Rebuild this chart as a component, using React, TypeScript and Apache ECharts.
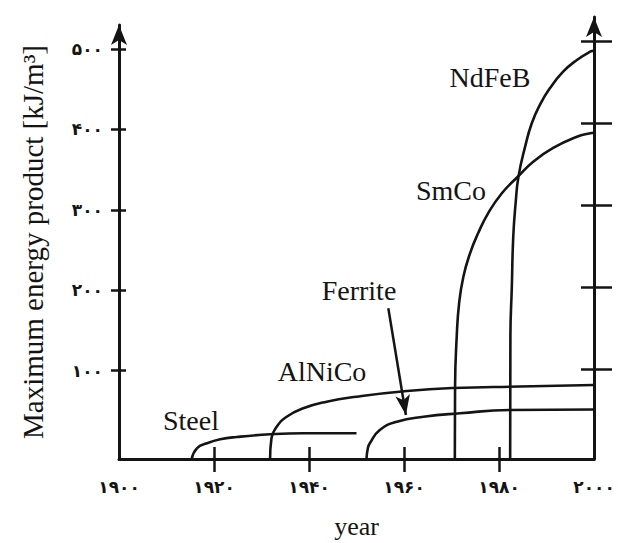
import React, { useEffect, useRef } from "react";
import * as echarts from "echarts";

const xTicks = [1900, 1920, 1940, 1960, 1980, 2000];
const xInnerTicks = [1920, 1940, 1960, 1980];
const yTicks = [100, 200, 300, 400, 500];

const steelYears = [1915.3, 1916.4, 1918.5, 1921.3, 1924.8, 1931.8, 1938.8, 1950.0];
const steelValues = [-10, 3.3, 9.5, 14.5, 17.4, 20.7, 22, 22];

const alnicoYears = [1931.8, 1932.1, 1933.2, 1935.3, 1938.8, 1943.7, 1950.0, 1960.6, 1970.3, 1984.4, 2000];
const alnicoValues = [-10, 15.8, 30.2, 42.6, 53.1, 61.3, 67.5, 74.6, 78.3, 80.2, 82];

const ferriteYears = [1952.1, 1952.4, 1952.8, 1954.9, 1958.5, 1964.1, 1971.8, 1982.3, 2000];
const ferriteValues = [-10, 3.7, 9.5, 26.1, 36.4, 42.6, 46.9, 51, 51.6];

const smcoYears = [1970.7, 1970.75, 1971.1, 1971.6, 1972.5, 1973.9, 1975.6, 1977.7, 1980.6, 1984.0, 1987.2, 1991.4, 1996.4, 1999.2, 2000];
const smcoValues = [-10, 80, 142.2, 183.7, 216.8, 245.9, 270.8, 295.7, 320.6, 341.5, 359.9, 377, 391, 395.3, 396];

const ndfebYears = [1982.35, 1982.4, 1982.7, 1983.0, 1983.5, 1984.1, 1985.5, 1986.9, 1988.6, 1990.7, 1993.5, 1996.4, 1999.2, 2000];
const ndfebValues = [-10, 142.2, 204.4, 266.6, 308.2, 341.3, 378.6, 407.7, 430.5, 451.2, 471.9, 486.5, 496.8, 498];

const ferriteArrowFrom = [1956.7, 177.5];
const ferriteArrowTo = [1960.4, 44.7];

const labels = [
  { text: "Steel", x: 191, y: 420 },
  { text: "AlNiCo", x: 322, y: 371 },
  { text: "Ferrite", x: 359, y: 290 },
  { text: "NdFeB", x: 490, y: 77 },
  { text: "SmCo", x: 451, y: 190 },
];

const INK = "#141414";
const SERIF = "'Liberation Serif', 'Times New Roman', serif";

const toPersian = (v: number) =>
  String(v).replace(/\d/g, (d) => "۰۱۲۳۴۵۶۷۸۹"[+d]);

const zip = (xs: number[], ys: number[]) => xs.map((x, i) => [x, ys[i]]);

export default function App() {
  const ref = useRef<HTMLDivElement>(null);
  useEffect(() => {
    if (!ref.current) return;
    const chart = echarts.init(ref.current, undefined, { renderer: "svg" });
    const lineSeries = (name: string, data: number[][], extra: any = {}) => ({
      type: "line",
      name,
      data,
      xAxisIndex: 0,
      yAxisIndex: 0,
      showSymbol: false,
      symbol: "none",
      smooth: 0.5,
      lineStyle: { color: INK, width: 2.6 },
      silent: true,
      ...extra,
    });
    const hiddenAxisBits = {
      axisLine: { show: false },
      axisLabel: { show: false },
      splitLine: { show: false },
    };
    const digitLabel = {
      fontFamily: "'DejaVu Sans', sans-serif",
      fontWeight: "bold",
      fontSize: 17,
      color: INK,
    };
    chart.setOption({
      animation: false,
      backgroundColor: "#ffffff",
      grid: [
        { left: 119, right: 24, top: 25, bottom: 84, outerBoundsMode: "none", containLabel: false },
        { left: 119, right: 24, top: 17, bottom: 84, outerBoundsMode: "none", containLabel: false },
      ],
      xAxis: [
        {
          type: "value",
          gridIndex: 0,
          position: "bottom",
          min: 1900,
          max: 2000,
          interval: 20,
          name: "year",
          nameLocation: "middle",
          nameGap: 54,
          nameTextStyle: { fontFamily: SERIF, fontSize: 26, color: INK },
          axisLine: { show: true, onZero: false, lineStyle: { color: INK, width: 3 } },
          axisTick: {
            show: true,
            inside: true,
            length: 12,
            customValues: xInnerTicks,
            lineStyle: { color: INK, width: 2.5 },
          },
          axisLabel: {
            show: true,
            margin: 19,
            customValues: xTicks,
            formatter: (v: number) => toPersian(v),
            ...digitLabel,
          },
          splitLine: { show: false },
        },
        {
          type: "value",
          gridIndex: 0,
          position: "bottom",
          min: 1900,
          max: 2000,
          interval: 20,
          ...hiddenAxisBits,
          axisLine: { show: false, onZero: false },
          axisTick: {
            show: true,
            inside: false,
            length: 13,
            customValues: xInnerTicks,
            lineStyle: { color: INK, width: 2.5 },
          },
        },
        {
          type: "value",
          gridIndex: 1,
          min: 1900,
          max: 2000,
          interval: 20,
          show: false,
        },
      ],
      yAxis: [
        {
          type: "value",
          gridIndex: 0,
          position: "left",
          min: -10,
          max: 530,
          name: "Maximum energy product [kJ/m³]",
          nameLocation: "middle",
          nameRotate: 90,
          nameGap: 72,
          nameTextStyle: { fontFamily: SERIF, fontSize: 29, color: INK },
          axisLine: {
            show: true,
            onZero: false,
            symbol: ["none", "arrow"],
            symbolSize: [12, 20],
            lineStyle: { color: INK, width: 3 },
          },
          axisTick: {
            show: true,
            inside: false,
            length: 8,
            customValues: yTicks,
            lineStyle: { color: INK, width: 2.5 },
          },
          axisLabel: {
            show: true,
            margin: 16,
            customValues: yTicks,
            formatter: (v: number) => toPersian(v),
            ...digitLabel,
          },
          splitLine: { show: false },
        },
        {
          type: "value",
          gridIndex: 0,
          position: "left",
          min: -10,
          max: 530,
          ...hiddenAxisBits,
          axisLine: { show: false, onZero: false },
          axisTick: {
            show: true,
            inside: true,
            length: 7,
            customValues: yTicks,
            lineStyle: { color: INK, width: 2.5 },
          },
        },
        {
          type: "value",
          gridIndex: 1,
          position: "right",
          min: -10,
          max: 530,
          axisLine: {
            show: true,
            onZero: false,
            symbol: ["none", "arrow"],
            symbolSize: [12, 20],
            lineStyle: { color: INK, width: 3 },
          },
          axisTick: {
            show: true,
            inside: false,
            length: 18,
            customValues: yTicks,
            lineStyle: { color: INK, width: 2.5 },
          },
          axisLabel: { show: false },
          splitLine: { show: false },
        },
        {
          type: "value",
          gridIndex: 1,
          position: "right",
          min: -10,
          max: 530,
          ...hiddenAxisBits,
          axisLine: { show: false, onZero: false },
          axisTick: {
            show: true,
            inside: true,
            length: 13,
            customValues: yTicks,
            lineStyle: { color: INK, width: 2.5 },
          },
        },
      ],
      series: [
        lineSeries("Steel", zip(steelYears, steelValues)),
        lineSeries("AlNiCo", zip(alnicoYears, alnicoValues)),
        lineSeries("Ferrite", zip(ferriteYears, ferriteValues), {
          markLine: {
            silent: true,
            symbol: ["none", "arrow"],
            symbolSize: [11, 20],
            label: { show: false },
            lineStyle: { color: INK, width: 2.5, type: "solid" },
            data: [[{ coord: ferriteArrowFrom }, { coord: ferriteArrowTo }]],
          },
        }),
        lineSeries("SmCo", zip(smcoYears, smcoValues)),
        lineSeries("NdFeB", zip(ndfebYears, ndfebValues)),
      ],
      graphic: labels.map((l) => ({
        type: "text",
        x: l.x,
        y: l.y,
        silent: true,
        style: {
          text: l.text,
          font: `28px ${SERIF}`,
          fill: INK,
          textAlign: "center",
          textVerticalAlign: "middle",
        },
      })),
    });
    return () => chart.dispose();
  }, []);
  return <div ref={ref} style={{ width: 618, height: 543, position: "absolute", left: 0, top: 0 }} />;
}
